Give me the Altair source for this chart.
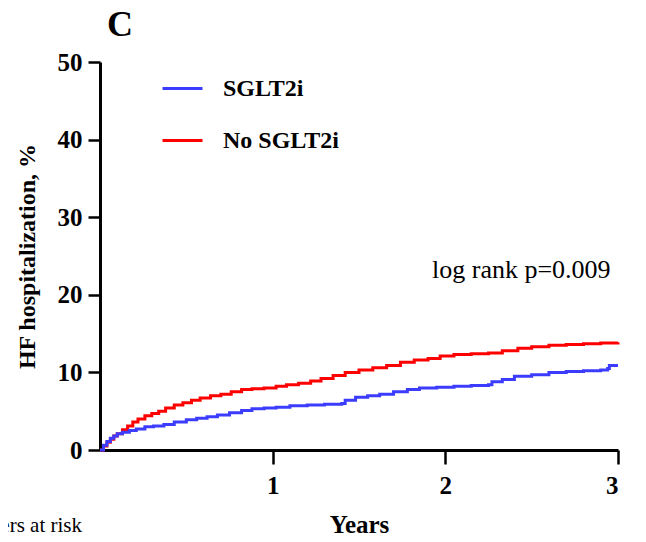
import altair as alt
import pandas as pd

# --- data (years, cumulative HF hospitalization %) ---
years_no = [0, 0.02, 0.04, 0.06, 0.08, 0.10, 0.13, 0.16, 0.19, 0.22, 0.26, 0.30, 0.34, 0.38,
            0.43, 0.48, 0.53, 0.58, 0.64, 0.70, 0.76, 0.82, 0.88, 0.95, 1.02, 1.08, 1.15,
            1.22, 1.28, 1.35, 1.42, 1.50, 1.58, 1.66, 1.74, 1.82, 1.90, 1.97, 2.05, 2.15,
            2.25, 2.33, 2.42, 2.50, 2.60, 2.70, 2.80, 2.90, 3.0]
pct_no = [0, 0.5, 1.0, 1.4, 1.8, 2.1, 2.6, 3.1, 3.6, 4.0, 4.4, 4.7, 5.0, 5.4,
          5.8, 6.1, 6.4, 6.7, 7.0, 7.2, 7.5, 7.8, 7.9, 8.0, 8.2, 8.4, 8.6,
          8.9, 9.2, 9.6, 10.0, 10.3, 10.6, 10.9, 11.3, 11.6, 11.8, 12.1, 12.3, 12.4,
          12.5, 12.8, 13.1, 13.3, 13.5, 13.6, 13.7, 13.8, 13.9]

years_sg = [0, 0.02, 0.04, 0.06, 0.08, 0.10, 0.13, 0.17, 0.21, 0.26, 0.31, 0.37, 0.43,
            0.50, 0.56, 0.62, 0.68, 0.75, 0.82, 0.88, 0.95, 1.02, 1.10, 1.20, 1.30, 1.40,
            1.42, 1.48, 1.55, 1.62, 1.70, 1.78, 1.85, 1.95, 2.05, 2.15, 2.25, 2.27, 2.33,
            2.40, 2.50, 2.60, 2.70, 2.80, 2.90, 2.94, 2.95, 3.0]
pct_sg = [0, 0.6, 1.1, 1.5, 1.8, 2.1, 2.3, 2.5, 2.7, 3.0, 3.1, 3.3, 3.6,
          3.9, 4.1, 4.3, 4.5, 4.8, 5.1, 5.3, 5.4, 5.5, 5.7, 5.8, 5.9, 6.0,
          6.4, 6.8, 7.0, 7.2, 7.5, 7.8, 8.0, 8.1, 8.2, 8.3, 8.4, 8.8, 9.1,
          9.5, 9.7, 10.0, 10.1, 10.2, 10.3, 10.5, 10.9, 10.9]

groups = ["SGLT2i", "No SGLT2i"]
colors = ["#3c3cff", "#ff0000"]
x_ticks = [1, 2, 3]
y_ticks = [0, 10, 20, 30, 40, 50]
panel_label = ["C"]
note = ["log rank p=0.009"]
risk_label = ["Numbers at risk"]

SERIF = "Liberation Serif"

df_no = pd.DataFrame({"t": years_no, "p": pct_no, "g": groups[1]})
df_sg = pd.DataFrame({"t": years_sg, "p": pct_sg, "g": groups[0]})

x = alt.X("t:Q", scale=alt.Scale(domain=[0, 3], nice=False),
          axis=alt.Axis(values=x_ticks, title="Years", format="d",
                        labelPadding=9, titleY=82, titleBaseline="alphabetic",
                        titleFontSize=25))
y = alt.Y("p:Q", scale=alt.Scale(domain=[0, 50], nice=False),
          axis=alt.Axis(values=y_ticks, title="HF hospitalization, %",
                        labelPadding=6, tickSize=12,
                        titleX=-73, titleY=194, titleAngle=270,
                        titleAlign="center", titleBaseline="middle",
                        titleFontSize=24))
color = alt.Color("g:N", scale=alt.Scale(domain=groups, range=colors),
                  legend=alt.Legend(title=None, orient="none", legendX=61, legendY=5,
                                    symbolType="stroke", symbolSize=1600,
                                    symbolStrokeWidth=3, labelFont=SERIF,
                                    labelFontSize=24, labelFontWeight="bold",
                                    labelOffset=19, rowPadding=18, padding=0,
                                    labelColor="black"))

red = alt.Chart(df_no).mark_line(interpolate="step-after", strokeWidth=3).encode(x=x, y=y, color=color)
blue = alt.Chart(df_sg).mark_line(interpolate="step-after", strokeWidth=3).encode(x=x, y=y, color=color)

dummy = alt.Data(values=[{}])
c_text = alt.Chart(dummy).mark_text(text=panel_label[0], font=SERIF, fontSize=36,
                                    fontWeight="bold", align="left",
                                    baseline="alphabetic", color="black").encode(
    x=alt.value(7), y=alt.value(-26))
p_text = alt.Chart(dummy).mark_text(text=note[0], font=SERIF, fontSize=26,
                                    align="left", baseline="alphabetic",
                                    color="black").encode(
    x=alt.value(332), y=alt.value(216))
r_text = alt.Chart(dummy).mark_text(text=risk_label[0], font=SERIF, fontSize=21,
                                    align="right", baseline="alphabetic",
                                    color="black").encode(
    x=alt.value(-18), y=alt.value(470))

chart = alt.layer(red, blue, c_text, p_text, r_text).properties(
    width=518, height=388,
    autosize=alt.AutoSizeParams(type="none"),
    padding={"left": 92, "top": 54, "right": 20, "bottom": 84},
).configure_view(stroke=None).configure_axis(
    grid=False, domainColor="black", domainWidth=3, tickColor="black",
    tickWidth=2.5, tickSize=14, labelFont=SERIF, labelFontSize=25,
    labelFontWeight="bold", labelColor="black", titleFont=SERIF,
    titleFontWeight="bold", titleColor="black",
)

chart.save("out.html", embed_options={"renderer": "svg", "actions": False})
